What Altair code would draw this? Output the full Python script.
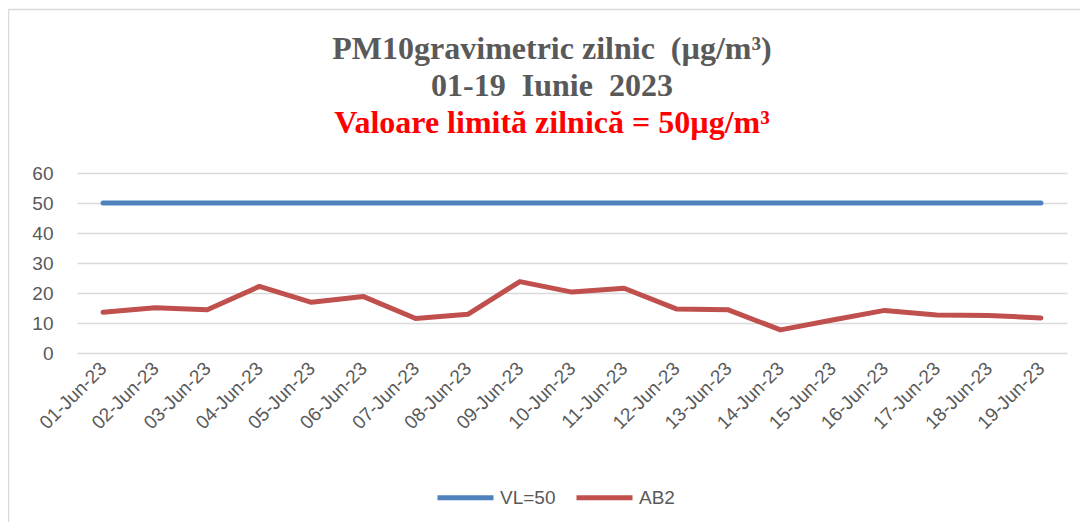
import altair as alt
import pandas as pd

dates = ["01-Jun-23", "02-Jun-23", "03-Jun-23", "04-Jun-23", "05-Jun-23",
         "06-Jun-23", "07-Jun-23", "08-Jun-23", "09-Jun-23", "10-Jun-23",
         "11-Jun-23", "12-Jun-23", "13-Jun-23", "14-Jun-23", "15-Jun-23",
         "16-Jun-23", "17-Jun-23", "18-Jun-23", "19-Jun-23"]
vl_values = [50, 50, 50, 50, 50, 50, 50, 50, 50, 50,
             50, 50, 50, 50, 50, 50, 50, 50, 50]
ab2_values = [13.6, 15.1, 14.4, 22.2, 16.9, 18.8, 11.5, 12.9, 23.8, 20.3,
              21.6, 14.7, 14.4, 7.7, 11.0, 14.2, 12.7, 12.5, 11.7]
series_names = ["VL=50", "AB2"]
series_colors = ["#4F81BD", "#C0504D"]
y_ticks = [0, 10, 20, 30, 40, 50, 60]

rows = []
for d, v in zip(dates, vl_values):
    rows.append({"date": d, "series": "VL=50", "value": v})
for d, v in zip(dates, ab2_values):
    rows.append({"date": d, "series": "AB2", "value": v})
df = pd.DataFrame(rows)

label_font = "Liberation Sans"
gray = "#595959"

lines = alt.Chart(df).mark_line(strokeWidth=5, strokeCap="round", strokeJoin="round").encode(
    x=alt.X("date:O", sort=dates,
            scale=alt.Scale(type="point", padding=0.5),
            axis=alt.Axis(title=None, labelAngle=-45, labelAlign="right",
                          labelBaseline="middle", ticks=False, domain=False,
                          labelPadding=12, labelFontSize=19, labelColor=gray,
                          labelFont=label_font, grid=False)),
    y=alt.Y("value:Q", scale=alt.Scale(domain=[0, 60], nice=False),
            axis=alt.Axis(title=None, values=y_ticks, grid=True, gridColor="#d9d9d9",
                          gridWidth=1.5, ticks=False, domain=False, labelPadding=24,
                          labelFontSize=19, labelColor=gray, labelFont=label_font)),
    color=alt.Color("series:N",
                    scale=alt.Scale(domain=series_names, range=series_colors),
                    sort=series_names,
                    legend=alt.Legend(title=None, orient="none", legendX=358, legendY=294,
                                      direction="horizontal", symbolType="stroke",
                                      symbolSize=3136, symbolStrokeWidth=5,
                                      labelFontSize=19, labelColor=gray, labelFont=label_font,
                                      labelOffset=4, columnPadding=10, padding=0)),
)

frame = pd.DataFrame({"k": [0]})
border_left = alt.Chart(frame).mark_rule(color="#d9d9d9", strokeWidth=1.5).encode(
    x=alt.value(-68.5), y=alt.value(-163.5), y2=alt.value(380))
border_top = alt.Chart(frame).mark_rule(color="#d9d9d9", strokeWidth=1.5).encode(
    x=alt.value(-68.5), x2=alt.value(1100), y=alt.value(-163.5))

chart = alt.layer(border_left, border_top, lines).properties(
    width=990, height=180,
    padding={"left": 69, "top": 165, "right": 13, "bottom": 169},
    autosize=alt.AutoSizeParams(type="none"),
    title=alt.TitleParams(
        text=["PM10gravimetric zilnic\u00a0 (µg/m³)", "01-19\u00a0 Iunie\u00a0 2023"],
        subtitle="Valoare limită zilnică = 50µg/m³",
        font="Liberation Serif", fontSize=32, fontWeight="bold", color=gray,
        lineHeight=37,
        subtitleFont="Liberation Serif", subtitleFontSize=32, subtitleFontWeight="bold",
        subtitleColor="#FF0000", subtitleLineHeight=37, subtitlePadding=5,
        anchor="middle", dx=-20, offset=-131),
).configure_view(stroke=None)

chart.save("out.html", embed_options={"renderer": "svg", "actions": False})
